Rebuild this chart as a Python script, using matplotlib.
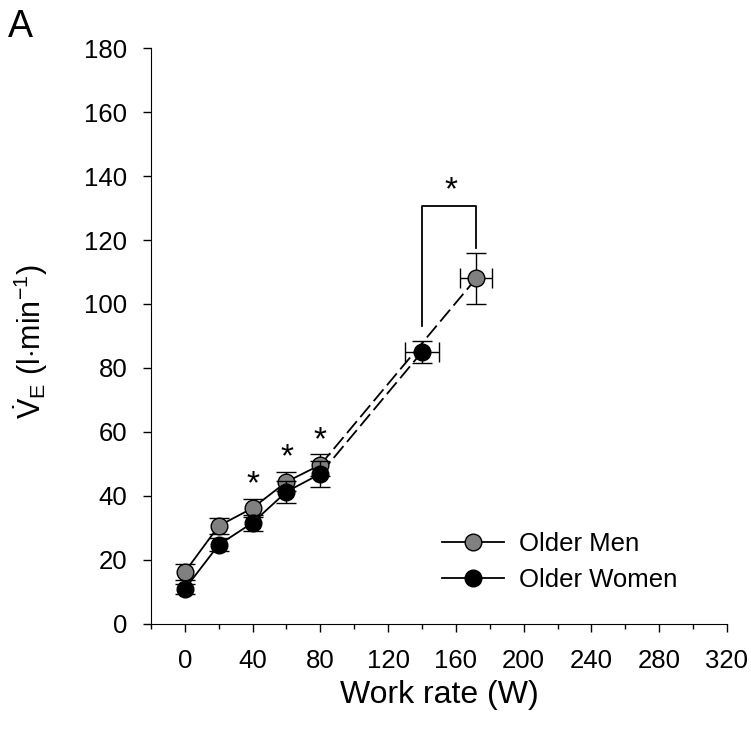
import matplotlib
matplotlib.use("Agg")
import matplotlib.pyplot as plt
from matplotlib.lines import Line2D
from matplotlib.ticker import MultipleLocator

plt.rcParams["font.family"] = ["Liberation Sans", "DejaVu Sans"]
plt.rcParams["mathtext.fontset"] = "custom"
plt.rcParams["mathtext.rm"] = "Liberation Sans"
plt.rcParams["mathtext.it"] = "Liberation Sans:italic"

# submaximal stages (solid) and peak (dashed)
work_rate = [0, 20, 40, 60, 80]
men_ve = [16.2, 30.6, 36.2, 44.4, 49.7]
men_err = [2.5, 2.5, 2.8, 3.0, 3.5]
women_ve = [10.9, 24.7, 31.6, 41.3, 46.9]
women_err = [1.5, 2.0, 2.5, 3.5, 4.0]

men_peak_w, men_peak_w_err = 172, 9.5
men_peak_ve, men_peak_ve_err = 108, 8
women_peak_w, women_peak_w_err = 140, 10
women_peak_ve, women_peak_ve_err = 85, 3.5

star_x = [40, 60, 80]
star_y = [46.9, 55.3, 60.6]
peak_star = (157, 138.8)

fig = plt.figure(figsize=(7.51, 7.40), dpi=100)
ax = fig.add_axes([0.201, 0.157, 0.767, 0.778])

mk = dict(marker="o", markersize=12, markeredgecolor="black", markeredgewidth=1.0)
eb = dict(ecolor="black", elinewidth=1.0, capsize=7, capthick=1.0)

# dashed connections to peak
ax.plot([work_rate[-1], men_peak_w], [men_ve[-1], men_peak_ve], color="black",
        lw=1.3, dashes=(8.5, 3), zorder=1)
ax.plot([work_rate[-1], women_peak_w], [women_ve[-1], women_peak_ve], color="black",
        lw=1.3, dashes=(8.5, 3), zorder=1)

ax.errorbar(work_rate, men_ve, yerr=men_err, color="black", lw=1.3,
            markerfacecolor="#808080", zorder=3, **mk, **eb)
ax.errorbar(work_rate, women_ve, yerr=women_err, color="black", lw=1.3,
            markerfacecolor="black", zorder=4, **mk, **eb)

ax.errorbar([men_peak_w], [men_peak_ve], xerr=[men_peak_w_err], yerr=[men_peak_ve_err],
            linestyle="none", markerfacecolor="#808080", zorder=3, **mk, **eb)
ax.errorbar([women_peak_w], [women_peak_ve], xerr=[women_peak_w_err], yerr=[women_peak_ve_err],
            linestyle="none", markerfacecolor="black", zorder=4, **mk, **eb)

# significance bracket and stars
ax.plot([women_peak_w, women_peak_w, men_peak_w, men_peak_w], [93, 130.5, 130.5, 117.5],
        color="black", lw=1.3)
star_fs = 24
for sx, sy in zip(star_x + [peak_star[0]], star_y + [peak_star[1]]):
    ax.annotate("*", (sx, sy), xytext=(0, -0.57 * star_fs), textcoords="offset points",
                ha="center", va="baseline", fontsize=star_fs)

ax.set_xlim(-20, 320)
ax.set_ylim(0, 180)
ax.xaxis.set_major_locator(MultipleLocator(40))
ax.xaxis.set_minor_locator(MultipleLocator(20))
ax.yaxis.set_major_locator(MultipleLocator(20))
ax.tick_params(axis="both", which="major", direction="out", length=6, width=1, labelsize=18.5)
ax.tick_params(axis="x", which="minor", direction="out", length=3.5, width=1)
ax.tick_params(axis="x", pad=12)
ax.tick_params(axis="y", pad=11)
ax.spines["top"].set_visible(False)
ax.spines["right"].set_visible(False)

ax.set_xlabel("Work rate (W)", fontsize=23)
ax.xaxis.set_label_coords(0.5, -0.097)
ax.set_ylabel(r"$\dot{\mathrm{V}}_\mathrm{E}$ (l$\cdot$min$^{-1}$)", fontsize=22)
ax.yaxis.set_label_coords(-0.175, 0.49)

handles = [
    Line2D([], [], color="black", lw=1.3, markerfacecolor="#808080", **mk),
    Line2D([], [], color="black", lw=1.3, markerfacecolor="black", **mk),
]
ax.legend(handles, ["Older Men", "Older Women"], loc="upper left",
          bbox_to_anchor=(0.505, 0.16), frameon=False, fontsize=18.5,
          borderpad=0, borderaxespad=0, handlelength=2.4, handletextpad=0.6,
          labelspacing=0.47)

fig.text(0.011, 0.95, "A", fontsize=27, va="baseline")

fig.savefig("out.png", dpi=100)
